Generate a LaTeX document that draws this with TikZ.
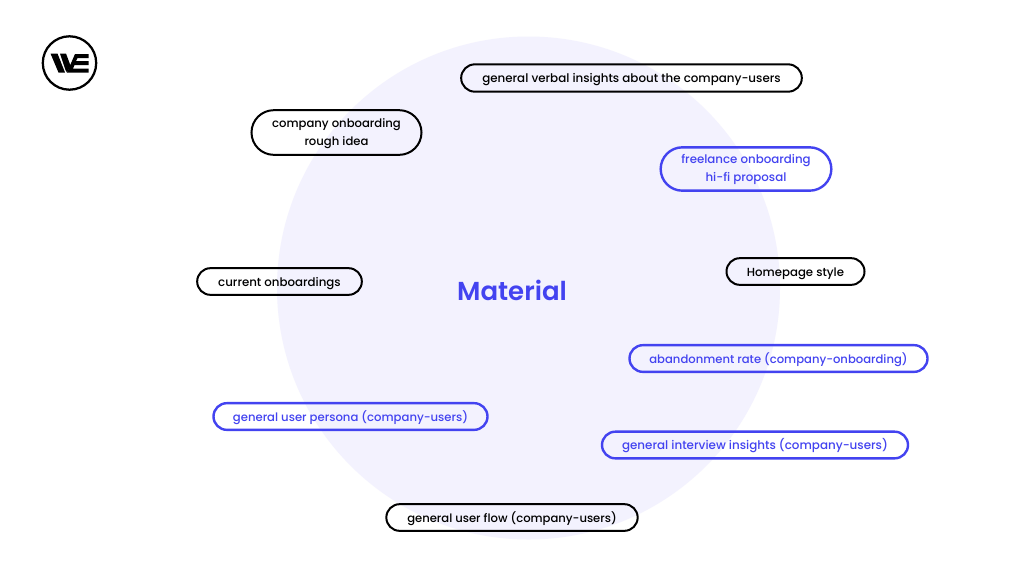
\documentclass[tikz,border=0pt]{standalone}
\usepackage{fontspec}
\usetikzlibrary{shapes.misc}
\setmainfont{Poppins Medium}[BoldFont={Poppins SemiBold}]
\definecolor{wash}{HTML}{F3F2FE}
\definecolor{accent}{HTML}{4343F0}
\tikzset{
  pill/.style={rounded rectangle,draw=black,line width=1.5pt,inner sep=0pt,align=center,text=black,text height=9pt,text depth=2pt},
  twoline/.style={text height=20.8pt,text depth=2pt},
  bluetwoline/.style={text height=20pt,text depth=2pt},
  bluepill/.style={pill,draw=accent,line width=1.8pt,text=accent},
  size/.style={font=\fontsize{#1}{13.5}\selectfont},
}
\begin{document}
\begin{tikzpicture}[x=0.75pt,y=-0.75pt]
\useasboundingbox (0,0) rectangle (1024,576);
\fill[white] (0,0) rectangle (1024,576);
\fill[wash] (528.5,288) circle[radius=251.5];
% logo
\draw[black,line width=1.7pt] (69.5,63) circle[radius=26.7];
\fill[black] (50.5,53.5) -- (57.5,53.5) -- (65,72.5) -- (58.5,72.5) -- cycle;
\fill[black] (60,53.5) -- (66,53.5) -- (70.5,65.5) -- (67,72.5) -- (65.5,70) -- cycle;
\fill[black] (67,72.5) -- (75,54) -- (88.5,54) -- (88.5,58) -- (77.5,58) -- (76,61) -- (88.5,61) -- (88.5,65) -- (74.5,65) -- (73,68.5) -- (88.5,68.5) -- (88.5,72.5) -- cycle;
\node[pill,size=8.9,minimum width=255.5pt,minimum height=20.5pt] (a) at (631.5,78) {general verbal insights about the company-users};
\node[pill,twoline,size=8.73,minimum width=127.5pt,minimum height=33.5pt] (b) at (336.5,132.5) {company onboarding\\rough idea};
\node[bluepill,bluetwoline,size=8.86,minimum width=128pt,minimum height=32.5pt] (c) at (746,169) {freelance onboarding\\hi-fi proposal};
\node[pill,size=8.8,minimum width=103.5pt,minimum height=20pt] (d) at (795.5,271.5) {Homepage style};
\node[pill,size=8.85,minimum width=123.5pt,minimum height=20pt] (e) at (279.5,281.5) {current onboardings};
\node[bluepill,size=8.7,minimum width=223.5pt,minimum height=20pt] (f) at (778.5,358.5) {abandonment rate (company-onboarding)};
\node[bluepill,size=8.74,minimum width=205.5pt,minimum height=20pt] (g) at (350.5,416.5) {general user persona (company-users)};
\node[bluepill,size=8.93,minimum width=229.5pt,minimum height=20pt] (h) at (755,445) {general interview insights (company-users)};
\node[pill,size=8.7,minimum width=188.5pt,minimum height=20pt] (i) at (512,517.5) {general user flow (company-users)};
\node[text=accent,inner sep=0pt,font=\fontsize{19.5}{24}\selectfont\bfseries] (m) at (512,290.3) {Material};
\end{tikzpicture}
\end{document}
